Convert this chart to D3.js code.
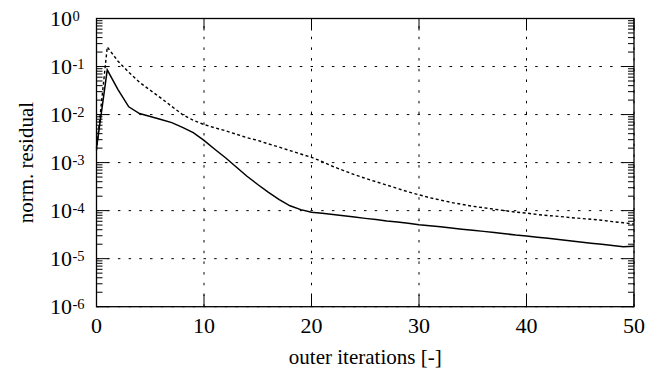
<!DOCTYPE html>
<html><head><meta charset="utf-8">
<script src="https://cdn.jsdelivr.net/npm/d3@7"></script>
<style>body{margin:0;background:#fff}svg{display:block}text{font-family:"Liberation Serif","Times New Roman",serif;fill:#000}</style>
</head><body>
<svg id="c" width="667" height="374"></svg>
<script>
const iterations = d3.range(0, 51);
const solidResidual = [2.0e-3,8.5e-2,3.3e-2,1.45e-2,1.05e-2,9.1e-3,7.9e-3,6.8e-3,5.4e-3,4.2e-3,
2.9e-3,1.9e-3,1.26e-3,8.1e-4,5.2e-4,3.5e-4,2.4e-4,1.7e-4,1.26e-4,1.05e-4,
9.3e-5,8.8e-5,8.3e-5,7.8e-5,7.35e-5,6.9e-5,6.5e-5,6.1e-5,5.8e-5,5.45e-5,
5.1e-5,4.85e-5,4.6e-5,4.35e-5,4.1e-5,3.9e-5,3.7e-5,3.5e-5,3.3e-5,3.1e-5,
2.95e-5,2.8e-5,2.65e-5,2.5e-5,2.36e-5,2.23e-5,2.1e-5,2.0e-5,1.88e-5,1.78e-5,1.82e-5];
const dashedResidual = [1.8e-3,0.255,0.129,0.076,0.047,0.032,0.022,0.0148,0.0100,7.6e-3,
6.2e-3,5.3e-3,4.6e-3,3.9e-3,3.3e-3,2.9e-3,2.45e-3,2.1e-3,1.78e-3,1.51e-3,
1.29e-3,1.05e-3,8.3e-4,6.8e-4,5.6e-4,4.7e-4,4.0e-4,3.4e-4,2.9e-4,2.45e-4,
2.14e-4,1.86e-4,1.66e-4,1.48e-4,1.35e-4,1.23e-4,1.15e-4,1.07e-4,1.0e-4,9.3e-5,
8.9e-5,8.3e-5,7.9e-5,7.6e-5,7.2e-5,6.9e-5,6.6e-5,6.3e-5,5.9e-5,5.6e-5,5.25e-5];
const xTicks = [0,10,20,30,40,50];
const yExponents = [0,-1,-2,-3,-4,-5,-6];
const xLabel = "outer iterations [-]";
const yLabel = "norm. residual";

const L=96.5, R=634, T=18.5, B=306.7;
const svg=d3.select("#c");
const x=d3.scaleLinear().domain([0,50]).range([L,R]);
const y=d3.scaleLog().domain([1e-6,1]).range([B,T]);

// grid
const grid=svg.append("g").attr("stroke","#000").attr("stroke-width",1).attr("stroke-dasharray","2.5,8.2");
xTicks.forEach(t=>grid.append("line").attr("x1",x(t)).attr("x2",x(t)).attr("y1",B).attr("y2",T));
yExponents.forEach(e=>grid.append("line").attr("x1",L).attr("x2",R).attr("y1",y(Math.pow(10,e))).attr("y2",y(Math.pow(10,e))));

// ticks
const tk=svg.append("g").attr("stroke","#000").attr("stroke-width",1);
xTicks.forEach(t=>{
  tk.append("line").attr("x1",x(t)).attr("x2",x(t)).attr("y1",B).attr("y2",B-12);
  tk.append("line").attr("x1",x(t)).attr("x2",x(t)).attr("y1",T).attr("y2",T+12);
});
yExponents.forEach(e=>{
  const v=Math.pow(10,e);
  tk.append("line").attr("x1",L).attr("x2",L+12).attr("y1",y(v)).attr("y2",y(v));
  tk.append("line").attr("x1",R).attr("x2",R-12).attr("y1",y(v)).attr("y2",y(v));
  if(e<0){
    for(let m=2;m<=9;m++){
      const yy=y(m*v);
      tk.append("line").attr("x1",L).attr("x2",L+6).attr("y1",yy).attr("y2",yy);
      tk.append("line").attr("x1",R).attr("x2",R-6).attr("y1",yy).attr("y2",yy);
    }
  }
});

// lines
const line=d3.line().x((d,i)=>x(iterations[i])).y(d=>y(d));
svg.append("path").datum(dashedResidual).attr("d",line).attr("fill","none").attr("stroke","#000").attr("stroke-width",1.4).attr("stroke-dasharray","3,2.5");
svg.append("path").datum(solidResidual).attr("d",line).attr("fill","none").attr("stroke","#000").attr("stroke-width",1.5);

// border
svg.append("rect").attr("x",L).attr("y",T).attr("width",R-L).attr("height",B-T).attr("fill","none").attr("stroke","#000").attr("stroke-width",1.3);

// tick labels
xTicks.forEach(t=>svg.append("text").attr("x",x(t)).attr("y",333).attr("text-anchor","middle").attr("font-size",22).text(t));
yExponents.forEach(e=>{
  const yy=y(Math.pow(10,e));
  svg.append("text").attr("x",72).attr("y",yy+7.5).attr("text-anchor","end").attr("font-size",22).text("10");
  svg.append("text").attr("x",72.5).attr("y",yy+2).attr("text-anchor","start").attr("font-size",14.5).text(String(e));
});

// axis labels
svg.append("text").attr("x",(L+R)/2).attr("y",364).attr("text-anchor","middle").attr("font-size",21).text(xLabel);
svg.append("text").attr("transform",`translate(33,${(T+B)/2}) rotate(-90)`).attr("text-anchor","middle").attr("font-size",21).text(yLabel);
</script>
</body></html>
